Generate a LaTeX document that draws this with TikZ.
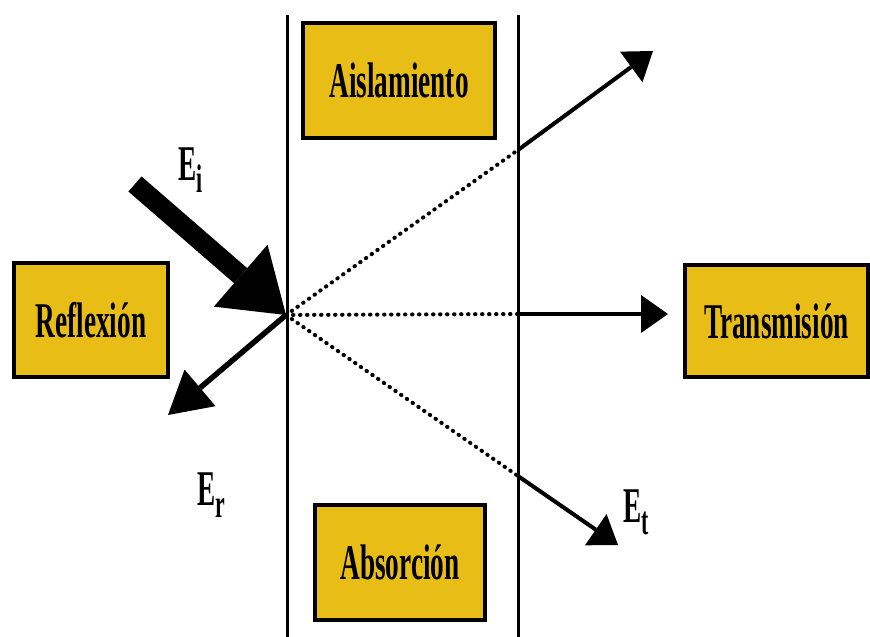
\documentclass[tikz,border=0pt]{standalone}
\usepackage{fontspec}
\setmainfont{Liberation Serif}
\usepackage{graphicx}
\usetikzlibrary{arrows.meta}
\definecolor{oro}{RGB}{232,190,22}
\newcommand{\estrecho}[1]{\scalebox{0.545}[1]{\fontsize{50}{50}\selectfont\bfseries #1}}
\newcommand{\campo}[2]{\estrecho{#1\raisebox{-12pt}{\fontsize{40}{40}\selectfont #2}}}
\tikzset{
  caja/.style={draw, line width=4pt, fill=oro, inner sep=0pt},
  flecha/.style={line width=4pt, -{Triangle[length=27pt,width=38pt,line width=0pt]}},
  puntos/.style={line width=4pt, line cap=round, dash pattern=on 0.5pt off 6.5pt},
  pared/.style={line width=3pt},
}

\begin{document}
\begin{tikzpicture}[x=1pt,y=-1pt]
            \useasboundingbox (0,0) rectangle (870,637);
            \draw[pared] (287,15)--(287,637);
            \draw[pared] (518,15)--(518,637);

            \node[caja, minimum width=192pt, minimum height=115pt] (aisl) at (399,80.5) {\estrecho{Aislamiento}};
            \node[caja, minimum width=154pt, minimum height=114pt] (refl) at (91,320) {\estrecho{Reflexión}};
            \node[caja, minimum width=183pt, minimum height=112pt] (trans) at (776.5,321) {\estrecho{Transmisión}};
            \node[caja, minimum width=170pt, minimum height=115pt] (absor) at (400,562.5) {\estrecho{Absorción}};

            \coordinate (o) at (286,315);
            \coordinate (ei) at (135,184);
            \coordinate (er) at (168,415);
            \coordinate (t1) at (518,150);
            \coordinate (t2) at (518,314);
            \coordinate (t3) at (518,476);
            \coordinate (t1e) at (653,51);
            \coordinate (t2e) at (668,314);
            \coordinate (t3e) at (618,545);

            \draw[line width=20pt, -{Triangle[length=60pt,width=82pt,line width=0pt]}] (ei)--(o);
            \draw[line width=5.5pt, -{Triangle[length=42pt,width=48pt,line width=0pt]}] (o)--(er);
            \draw[puntos, shorten <=7pt] (o)--(t1) (o)--(t2) (o)--(t3);
            \draw[flecha] (t1)--(t1e);
            \draw[flecha] (t2)--(t2e);
            \draw[flecha] (t3)--(t3e);

            \node[anchor=base west, inner sep=0pt] (lei) at (178,180) {\campo{E}{i}};
            \node[anchor=base west, inner sep=0pt] (ler) at (197,505) {\campo{E}{r}};
            \node[anchor=base west, inner sep=0pt] (let) at (623,522) {\campo{E}{t}};
        \end{tikzpicture}
\end{document}
